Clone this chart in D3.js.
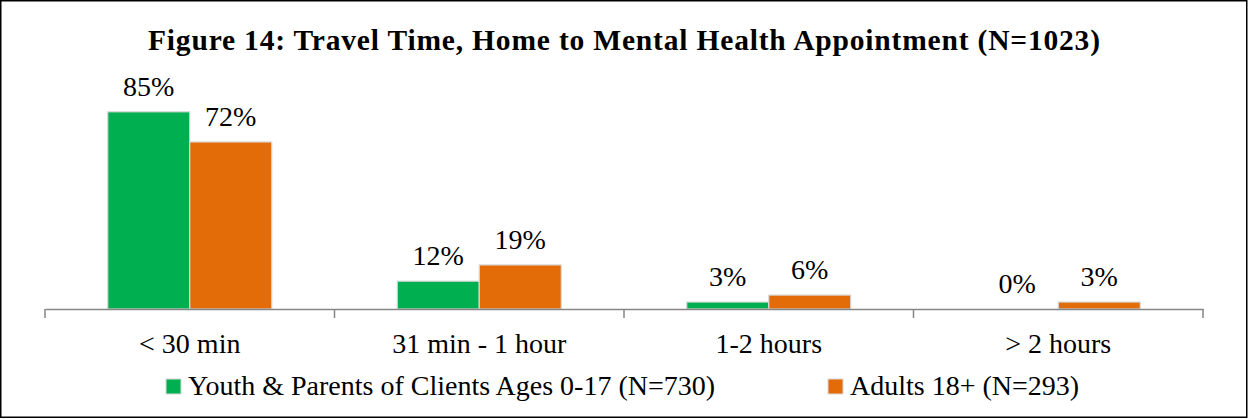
<!DOCTYPE html>
<html>
<head>
<meta charset="utf-8">
<script src="https://cdn.jsdelivr.net/npm/d3@7"></script>
<style>
  body { margin: 0; background: #fff; }
  svg text { font-family: "Liberation Serif", "DejaVu Serif", serif; fill: #000; }
</style>
</head>
<body>
<script>
// chart data
var categories = ["< 30 min", "31 min - 1 hour", "1-2 hours", "> 2 hours"];
var seriesNames = ["Youth & Parents of Clients Ages 0-17 (N=730)", "Adults 18+ (N=293)"];
var youth = [85, 12, 3, 0];
var adults = [72, 19, 6, 3];
var colors = ["#00b050", "#e36c09"];
var title = "Figure 14: Travel Time, Home to Mental Health Appointment (N=1023)";

var w = 1249, h = 419;
var fs = "28px";

var svg = d3.select("body").append("svg")
    .attr("width", w)
    .attr("height", h);

svg.append("rect")
    .attr("x", 0.75).attr("y", 0.75)
    .attr("width", w - 3).attr("height", h - 2.5)
    .attr("fill", "#fff")
    .attr("stroke", "#000")
    .attr("stroke-width", 1.5);

svg.append("text")
    .attr("x", 624)
    .attr("y", 50)
    .attr("text-anchor", "middle")
    .attr("textLength", 952)
    .attr("lengthAdjust", "spacing")
    .style("font-weight", "bold")
    .style("font-size", "29.5px")
    .text(title);

var x0 = d3.scaleBand()
    .domain(categories)
    .range([45, 1203]);

var x1 = d3.scaleBand()
    .domain([0, 1])
    .range([0, x0.bandwidth()])
    .paddingInner(0)
    .paddingOuter(0.765);

var y = d3.scaleLinear()
    .domain([0, 100])
    .range([309, 77]);

var rows = categories.map(function (c, i) {
    return {cat: c, vals: [youth[i], adults[i]]};
});

var groups = svg.selectAll(".grp")
    .data(rows)
    .enter().append("g")
    .attr("class", "grp")
    .attr("transform", function (d) { return "translate(" + x0(d.cat) + ",0)"; });

groups.selectAll("rect")
    .data(function (d) { return d.vals; })
    .enter().append("rect")
    .attr("x", function (d, i) { return x1(i); })
    .attr("y", function (d) { return y(d); })
    .attr("width", x1.bandwidth())
    .attr("height", function (d) { return y(0) - y(d); })
    .attr("fill", function (d, i) { return colors[i]; })
    .attr("stroke", "#d9d9d9")
    .attr("stroke-width", 1.2);

groups.selectAll(".val")
    .data(function (d) { return d.vals; })
    .enter().append("text")
    .attr("class", "val")
    .attr("x", function (d, i) { return x1(i) + x1.bandwidth() / 2; })
    .attr("y", function (d) { return y(d) - 16; })
    .attr("text-anchor", "middle")
    .style("font-size", fs)
    .text(function (d) { return d + "%"; });

// x axis
var xAxis = d3.axisBottom(x0).tickSize(0).tickSizeOuter(0);
var ax = svg.append("g")
    .attr("transform", "translate(0," + y(0) + ")")
    .call(xAxis);
ax.select(".domain").attr("stroke", "#868686").attr("stroke-width", 1.5);
ax.selectAll(".tick text")
    .attr("dy", 0)
    .attr("y", 44)
    .style("font-size", fs)
    .style("font-family", "'Liberation Serif', serif");

ax.selectAll(".sep")
    .data(d3.range(categories.length + 1))
    .enter().append("line")
    .attr("x1", function (i) { return x0.range()[0] + i * x0.step(); })
    .attr("x2", function (i) { return x0.range()[0] + i * x0.step(); })
    .attr("y1", 0)
    .attr("y2", 9)
    .attr("stroke", "#868686")
    .attr("stroke-width", 1.5);

// legend
var legendX = [166, 828];
var legend = svg.selectAll(".legend")
    .data(seriesNames)
    .enter().append("g")
    .attr("class", "legend")
    .attr("transform", function (d, i) { return "translate(" + legendX[i] + ",379)"; });

legend.append("rect")
    .attr("width", 15)
    .attr("height", 15)
    .attr("fill", function (d, i) { return colors[i]; })
    .attr("stroke", "#d9d9d9")
    .attr("stroke-width", 1);

legend.append("text")
    .attr("x", 22)
    .attr("y", 16)
    .style("font-size", fs)
    .text(function (d) { return d; });
</script>
</body>
</html>
